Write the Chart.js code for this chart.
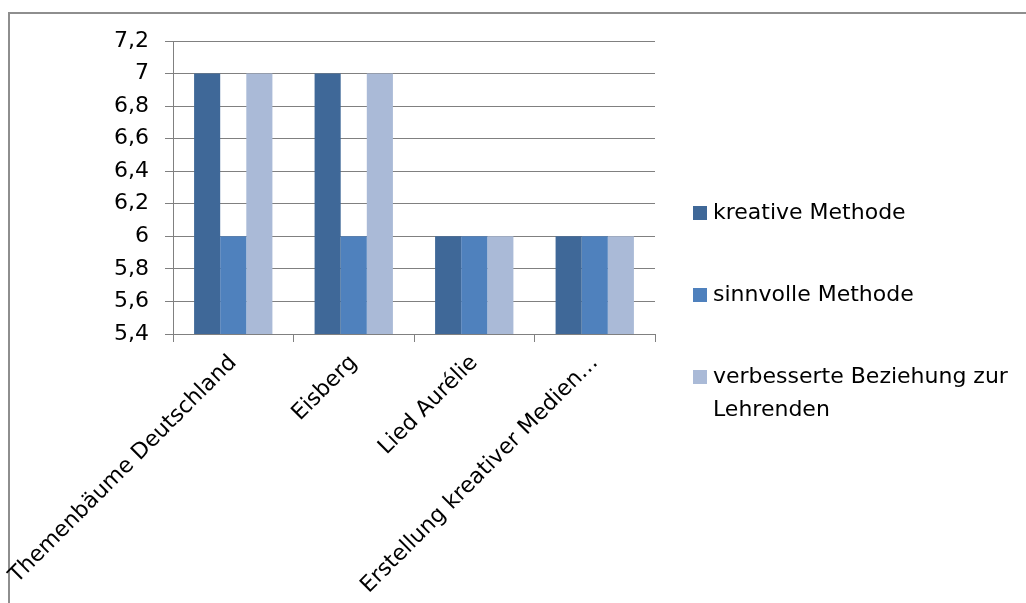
<!DOCTYPE html>
<html lang="de">
<head>
<meta charset="utf-8">
<title>Bewertung der Methoden</title>
<script src="https://cdn.jsdelivr.net/npm/chart.js@4.4.1/dist/chart.umd.min.js"></script>
<style>
  html, body { margin: 0; padding: 0; background: #fff; }
  #rahmen {
    position: absolute; left: 0; top: 0; width: 1026px; height: 603px;
  }
  #linie {
    position: absolute; left: 8px; top: 12px; right: -10px; bottom: -10px;
    border-top: 2px solid #8e8e8e; border-left: 2px solid #8e8e8e;
  }
  canvas { position: absolute; left: 0; top: 0; }
</style>
</head>
<body>
<div id="rahmen">
  <div id="linie"></div>
  <canvas id="grafik" width="1026" height="603"></canvas>
</div>
<script>
// Kategorien und Werte
var kategorien = ['Themenbäume Deutschland', 'Eisberg', 'Lied Aurélie', 'Erstellung kreativer Medien…'];
var kreativeMethode = [7, 7, 6, 6];
var sinnvolleMethode = [6, 6, 6, 6];
var beziehungLehrende = [7, 7, 6, 6];
var serienNamen = ['kreative Methode', 'sinnvolle Methode', 'verbesserte Beziehung zur Lehrenden'];
var farben = ['#3f6898', '#4f81bd', '#aabad7'];

var schrift = '"DejaVu Sans", sans-serif';
var schriftGroesse = 22;

// Legende rechts neben dem Diagramm, Text wird umgebrochen
var legendePlugin = {
    id: 'legendeRechts',
    afterDraw: function(chart) {
        var ctx = chart.ctx;
        var x = 693, maxBreite = 310;
        var zeilenY = [213, 295, 377];
        ctx.save();
        ctx.font = schriftGroesse + 'px ' + schrift;
        ctx.textBaseline = 'middle';
        chart.data.datasets.forEach(function(ds, i) {
            var y = zeilenY[i];
            ctx.fillStyle = ds.backgroundColor;
            ctx.fillRect(x, y - 7, 14, 14);
            // Wortumbruch
            var woerter = ds.label.split(' ');
            var zeilen = [], aktuell = '';
            woerter.forEach(function(w) {
                var test = aktuell ? aktuell + ' ' + w : w;
                if (ctx.measureText(test).width > maxBreite && aktuell) {
                    zeilen.push(aktuell);
                    aktuell = w;
                } else {
                    aktuell = test;
                }
            });
            zeilen.push(aktuell);
            ctx.fillStyle = '#000';
            zeilen.forEach(function(z, j) {
                ctx.fillText(z, x + 20, y + j * 33);
            });
        });
        ctx.restore();
    }
};

document.addEventListener('DOMContentLoaded', function() {
    var werte = [kreativeMethode, sinnvolleMethode, beziehungLehrende];
    var datensaetze = werte.map(function(daten, i) {
        return {
            label: serienNamen[i],
            data: daten,
            backgroundColor: farben[i],
            borderWidth: 0,
            categoryPercentage: 0.65,
            barPercentage: 1.0
        };
    });

    var ctx = document.getElementById('grafik').getContext('2d');
    new Chart(ctx, {
        type: 'bar',
        data: { labels: kategorien, datasets: datensaetze },
        options: {
            responsive: false,
            animation: false,
            layout: { padding: { left: 0, top: 41, right: 371, bottom: 0 } },
            plugins: {
                legend: { display: false },
                tooltip: { enabled: false }
            },
            scales: {
                x: {
                    afterFit: function(scale) {
                        scale.height = 269;
                        scale.paddingLeft = 0;
                        scale.paddingRight = 0;
                    },
                    grid: {
                        offset: true,
                        drawOnChartArea: false,
                        color: '#808080',
                        tickLength: 8
                    },
                    border: { color: '#808080', width: 1 },
                    ticks: {
                        autoSkip: false,
                        minRotation: 45,
                        maxRotation: 45,
                        padding: 8,
                        color: '#000',
                        font: { family: schrift, size: schriftGroesse }
                    }
                },
                y: {
                    min: 5.4,
                    max: 7.2,
                    afterFit: function(scale) {
                        scale.width = 173;
                        scale.paddingTop = 0;
                        scale.paddingBottom = 0;
                    },
                    grid: { color: '#808080', tickLength: 8 },
                    border: { color: '#808080', width: 1 },
                    ticks: {
                        stepSize: 0.2,
                        padding: 16,
                        color: '#000',
                        font: { family: schrift, size: schriftGroesse },
                        callback: function(v) {
                            return String(Number(v.toFixed(1))).replace('.', ',');
                        }
                    }
                }
            }
        },
        plugins: [legendePlugin]
    });
});
</script>
</body>
</html>
